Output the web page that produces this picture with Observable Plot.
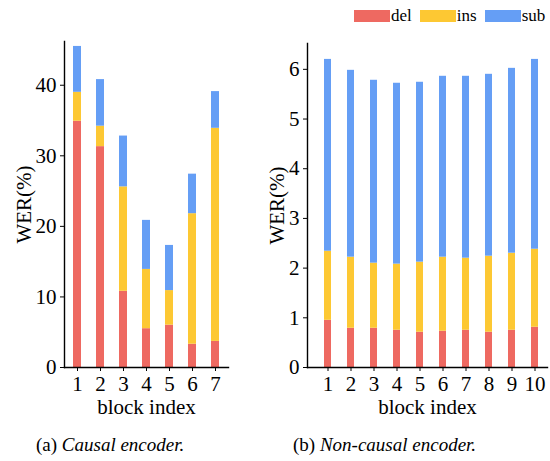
<!DOCTYPE html>
<html>
<head>
<meta charset="utf-8">
<script src="https://cdn.jsdelivr.net/npm/d3@7"></script>
<script src="https://cdn.jsdelivr.net/npm/@observablehq/plot@0.6"></script>
<style>
  html, body { margin: 0; padding: 0; background: #fff; }
  #wrap { position: relative; width: 550px; height: 461px; color: #000; }
  html body #wrap, html body #wrap *, html body #wrap svg text { font-family: 'Liberation Serif', Times, serif !important; }
  .panel { position: absolute; top: 0; }
  .cap { position: absolute; font-size: 19px; white-space: nowrap; }
  .legend { position: absolute; top: 6px; left: 354px; display: flex; align-items: center; font-size: 17px; }
  .legend span.sw { display: inline-block; width: 36px; height: 12px; }
  .legend span.lb { margin-left: 1px; margin-right: 8px; }
</style>
</head>
<body>
<div id="wrap">
  <div id="left" class="panel" style="left:0px"></div>
  <div id="right" class="panel" style="left:250px"></div>
  <div class="legend" id="legend"></div>
  <div class="cap" style="left:36px; top:434px">(a) <i>Causal encoder.</i></div>
  <div class="cap" style="left:293px; top:434px">(b) <i>Non-causal encoder.</i></div>
</div>
<script>
// ---- data ----
const types = ["del", "ins", "sub"];
const typeColors = ["#ee6961", "#fdc833", "#659ef5"];

const causalBlocks = [1, 2, 3, 4, 5, 6, 7];
const causalDel = [34.9, 31.3, 10.8, 5.5, 6.0, 3.3, 3.7];
const causalIns = [4.1, 2.9, 14.8, 8.4, 4.9, 18.5, 30.2];
const causalSub = [6.5, 6.6, 7.2, 6.95, 6.4, 5.6, 5.2];
const causalTicks = [0, 10, 20, 30, 40];

const nonCausalBlocks = [1, 2, 3, 4, 5, 6, 7, 8, 9, 10];
const nonCausalDel = [0.95, 0.79, 0.79, 0.75, 0.71, 0.73, 0.75, 0.71, 0.75, 0.81];
const nonCausalIns = [1.39, 1.43, 1.31, 1.33, 1.41, 1.49, 1.45, 1.53, 1.55, 1.57];
const nonCausalSub = [3.86, 3.76, 3.68, 3.64, 3.62, 3.64, 3.66, 3.66, 3.72, 3.82];
const nonCausalTicks = [0, 1, 2, 3, 4, 5, 6];

function toRows(blocks, del, ins, sub) {
  const rows = [];
  blocks.forEach((b, i) => {
    rows.push({block: b, type: "del", value: del[i]});
    rows.push({block: b, type: "ins", value: ins[i]});
    rows.push({block: b, type: "sub", value: sub[i]});
  });
  return rows;
}

const serif = "'Liberation Serif', Times, serif";

function panel(rows, blocks, ticks, yMax, opts) {
  const svg = Plot.plot({
    width: opts.width,
    height: 420,
    marginLeft: opts.marginLeft,
    marginRight: opts.marginRight,
    marginTop: opts.marginTop,
    marginBottom: 53,
    style: {fontFamily: serif, fontSize: "21px", color: "#000", background: "transparent", overflow: "visible"},
    x: {type: "band", domain: blocks, paddingInner: opts.pi, paddingOuter: opts.po, align: opts.align ?? 0.5},
    y: {domain: [0, yMax]},
    color: {domain: types, range: typeColors},
    marks: [
      Plot.barY(rows, {x: "block", y: "value", fill: "type", order: types}),
      Plot.frame({anchor: "left", stroke: "#000", strokeWidth: 1.4}),
      Plot.frame({anchor: "bottom", stroke: "#000", strokeWidth: 1.4}),
      Plot.axisY({ticks: ticks, tickFormat: d => String(d), tickSize: 4, tickPadding: 4, label: "WER(%)", labelAnchor: "center", labelArrow: "none", labelOffset: opts.labelOffset, fontSize: 21, fontFamily: serif}),
      Plot.axisX({tickSize: 4, tickPadding: 5, label: "block index", labelAnchor: "center", labelArrow: "none", labelOffset: 46, fontSize: 21, fontFamily: serif})
    ]
  });
  svg.querySelectorAll("text, tspan").forEach(el => { el.style.setProperty("font-family", serif, "important"); });
  return svg;
}

document.getElementById("left").appendChild(
  panel(toRows(causalBlocks, causalDel, causalIns, causalSub), causalBlocks, causalTicks, 46.2,
    {width: 250, marginLeft: 64, marginRight: 22, marginTop: 41, pi: 0.66, po: 0.32, labelOffset: 48})
);
document.getElementById("right").appendChild(
  panel(toRows(nonCausalBlocks, nonCausalDel, nonCausalIns, nonCausalSub), nonCausalBlocks, nonCausalTicks, 6.52,
    {width: 300, marginLeft: 57, marginRight: 3, marginTop: 43, pi: 0.68, po: 0.36, align: 0.65, labelOffset: 38})
);

const lg = document.getElementById("legend");
types.forEach((t, i) => {
  const sw = document.createElement("span");
  sw.className = "sw";
  sw.style.background = typeColors[i];
  const lb = document.createElement("span");
  lb.className = "lb";
  lb.textContent = t;
  lg.appendChild(sw);
  lg.appendChild(lb);
});
</script>
</body>
</html>
